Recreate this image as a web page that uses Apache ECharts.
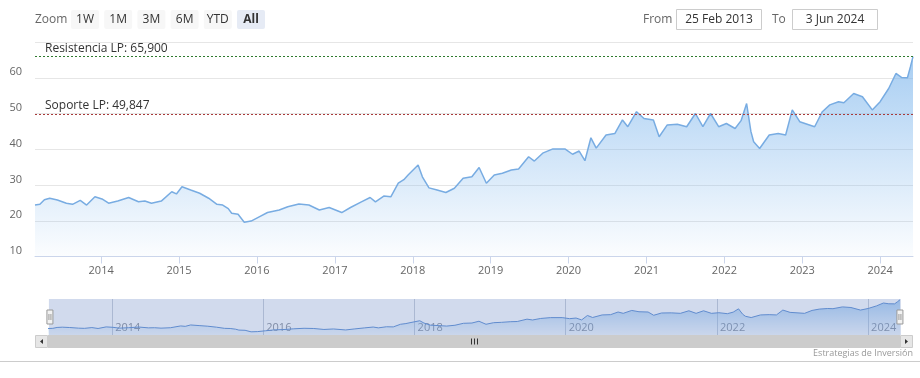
<!DOCTYPE html>
<html>
<head>
<meta charset="utf-8">
<script src="https://cdn.jsdelivr.net/npm/echarts@6/dist/echarts.min.js"></script>
<style>
  html, body { margin: 0; padding: 0; background: #fff; }
  #chart { width: 920px; height: 378px; }
</style>
</head>
<body>
<div id="chart"></div>
<script>
// precio (lectura aproximada del grafico)
const dates = [
  '2013-02-25','2013-03-20','2013-04-10','2013-05-05','2013-06-10','2013-07-22','2013-08-20','2013-09-25','2013-10-25','2013-12-03',
  '2014-01-05','2014-02-05','2014-03-20','2014-05-10','2014-06-25','2014-07-25','2014-08-25','2014-10-10','2014-11-28','2014-12-20',
  '2015-01-15','2015-02-25','2015-04-08','2015-05-20','2015-06-28','2015-07-25','2015-08-20','2015-09-05','2015-10-05','2015-11-03','2015-12-05',
  '2016-01-12','2016-02-20','2016-04-15','2016-05-25','2016-07-16','2016-09-01','2016-10-20','2016-12-05',
  '2017-02-02','2017-03-15','2017-05-05','2017-06-15','2017-07-10','2017-08-18','2017-09-20','2017-10-25','2017-11-20','2017-12-10',
  '2018-01-26','2018-02-15','2018-03-18','2018-04-25','2018-06-05','2018-07-15','2018-08-25','2018-10-05','2018-11-08','2018-12-12',
  '2019-01-18','2019-02-25','2019-04-08','2019-05-12','2019-06-28','2019-07-25','2019-09-02','2019-10-20','2019-12-15',
  '2020-01-20','2020-02-20','2020-03-18','2020-04-15','2020-05-10','2020-06-25','2020-08-05','2020-09-10','2020-10-05','2020-11-15','2020-12-20',
  '2021-02-02','2021-03-01','2021-04-08','2021-05-25','2021-07-08','2021-08-18','2021-09-22','2021-10-28','2021-12-05',
  '2022-01-10','2022-02-20','2022-03-20','2022-04-15','2022-05-05','2022-05-18','2022-06-15','2022-07-30','2022-09-10','2022-10-15','2022-11-15','2022-12-20',
  '2023-02-28','2023-04-05','2023-05-10','2023-06-20','2023-07-15','2023-08-30','2023-10-10','2023-11-25',
  '2024-01-01','2024-02-10','2024-03-15','2024-04-10','2024-05-08','2024-05-22','2024-06-03'
];
const prices = [
  24.4, 24.6, 25.9, 26.3, 25.8, 24.9, 24.6, 25.7, 24.4, 26.7,
  26.1, 24.9, 25.5, 26.5, 25.3, 25.5, 24.9, 25.5, 28.1, 27.5,
  29.5, 28.6, 27.7, 26.3, 24.6, 24.4, 23.4, 22.1, 21.8, 19.6, 19.9,
  21.1, 22.3, 23.0, 23.9, 24.7, 24.4, 23.0, 23.7,
  22.3, 23.7, 25.3, 26.5, 25.3, 26.9, 26.7, 30.5, 31.5, 32.8,
  35.6, 32.3, 29.2, 28.6, 27.9, 29.1, 31.9, 32.3, 34.9, 30.5,
  32.8, 33.3, 34.2, 34.5, 37.9, 36.7, 38.9, 40.1, 40.1,
  38.6, 39.5, 36.8, 43.2, 40.3, 44.0, 44.4, 48.2, 46.3, 50.5, 48.6,
  48.2, 43.5, 46.8, 47.0, 46.3, 50.0, 46.3, 50.0, 46.3,
  47.2, 45.8, 48.0, 52.8, 45.0, 42.1, 40.2, 44.0, 44.4, 44.0, 51.0, 47.7,
  46.3, 50.5, 52.4, 53.3, 53.0, 55.6, 54.7, 51.0,
  53.3, 57.0, 61.2, 60.1, 60.0, 63.1, 65.9
];

const yearTicks = [2014, 2015, 2016, 2017, 2018, 2019, 2020, 2021, 2022, 2023, 2024];
const navYearTicks = [2014, 2016, 2018, 2020, 2022, 2024];
const levelNames = ['Resistencia LP', 'Soporte LP'];
const levelValues = [65.9, 49.847];
const levelColors = ['#2e7a2e', '#a83a3a'];
const zoomButtons = ['1W', '1M', '3M', '6M', 'YTD', 'All'];
const fromLabel = '25 Feb 2013';
const toLabel = '3 Jun 2024';

const FONT = '"Open Sans", "DejaVu Sans", sans-serif';
const ts = s => { const p = s.split('-'); return Date.UTC(+p[0], +p[1] - 1, +p[2]); };
const yearTs = y => Date.UTC(y, 0, 1);
const seriesData = dates.map((d, i) => [ts(d), prices[i]]);
const xMin = ts(dates[0]);
const xMax = ts(dates[dates.length - 1]);
const yearLabel = v => String(new Date(v).getUTCFullYear());

const chart = echarts.init(document.getElementById('chart'), null, { renderer: 'canvas' });

// range selector + inputs + scrollbar
const graphics = [];
graphics.push({ type: 'text', x: 35, y: 19.5, style: { text: 'Zoom', fill: '#666', font: '12px ' + FONT, verticalAlign: 'middle' } });
zoomButtons.forEach((b, i) => {
  const x = 71 + i * 33.2;
  const sel = b === 'All';
  graphics.push({ type: 'rect', shape: { x: x, y: 10, width: 28, height: 19, r: 2 },
    style: { fill: sel ? '#e6ebf5' : '#f7f7f7' } });
  graphics.push({ type: 'text', x: x + 14, y: 19.5,
    style: { text: b, fill: '#333', font: (sel ? 'bold ' : '') + '12px ' + FONT, align: 'center', verticalAlign: 'middle' } });
});
graphics.push({ type: 'text', x: 643, y: 19.5, style: { text: 'From', fill: '#666', font: '12px ' + FONT, verticalAlign: 'middle' } });
graphics.push({ type: 'rect', shape: { x: 676.5, y: 9.5, width: 85, height: 20 }, style: { fill: '#fff', stroke: '#cccccc', lineWidth: 1 } });
graphics.push({ type: 'text', x: 719, y: 19.5, style: { text: fromLabel, fill: '#333', font: '12px ' + FONT, align: 'center', verticalAlign: 'middle' } });
graphics.push({ type: 'text', x: 772, y: 19.5, style: { text: 'To', fill: '#666', font: '12px ' + FONT, verticalAlign: 'middle' } });
graphics.push({ type: 'rect', shape: { x: 792.5, y: 9.5, width: 85, height: 20 }, style: { fill: '#fff', stroke: '#cccccc', lineWidth: 1 } });
graphics.push({ type: 'text', x: 835, y: 19.5, style: { text: toLabel, fill: '#333', font: '12px ' + FONT, align: 'center', verticalAlign: 'middle' } });

// scrollbar
graphics.push({ type: 'rect', shape: { x: 48, y: 335, width: 852, height: 13 }, style: { fill: '#cccccc' } });
graphics.push({ type: 'rect', shape: { x: 35.5, y: 335.5, width: 12, height: 12 }, style: { fill: '#e6e6e6', stroke: '#cccccc' } });
graphics.push({ type: 'rect', shape: { x: 900.5, y: 335.5, width: 12, height: 12 }, style: { fill: '#e6e6e6', stroke: '#cccccc' } });
graphics.push({ type: 'polygon', shape: { points: [[40, 341.5], [43, 339], [43, 344]] }, style: { fill: '#333' } });
graphics.push({ type: 'polygon', shape: { points: [[908, 341.5], [905, 339], [905, 344]] }, style: { fill: '#333' } });
[471.5, 474.5, 477.5].forEach(x => {
  graphics.push({ type: 'line', shape: { x1: x, y1: 338.5, x2: x, y2: 344.5 }, style: { stroke: '#333', lineWidth: 1 } });
});
graphics.push({ type: 'line', shape: { x1: 0, y1: 361.5, x2: 920, y2: 361.5 }, style: { stroke: '#cccccc', lineWidth: 1 } });
graphics.push({ type: 'text', x: 913, y: 353, style: { text: 'Estrategias de Inversión', fill: '#999', font: '9px ' + FONT, align: 'right', verticalAlign: 'middle' } });

const option = {
  animation: false,
  backgroundColor: '#fff',
  grid: [
    { left: 35, right: 7, top: 42, bottom: 121.5 },
    { left: 48, right: 20, top: 299, height: 36 }
  ],
  xAxis: [
    {
      type: 'value', gridIndex: 0, min: xMin, max: xMax,
      axisLine: { lineStyle: { color: '#ccd6eb' } },
      axisTick: { show: true, length: 7, lineStyle: { color: '#ccd6eb' }, customValues: yearTicks.map(yearTs) },
      axisLabel: { color: '#666', fontSize: 11, fontFamily: FONT, margin: 9,
        customValues: yearTicks.map(yearTs), formatter: yearLabel },
      splitLine: { show: false }
    },
    {
      type: 'value', gridIndex: 1, min: xMin, max: xMax,
      axisLine: { show: false },
      axisTick: { show: true, inside: true, length: 36, lineStyle: { color: '#c9cfd9' }, customValues: navYearTicks.map(yearTs) },
      axisLabel: { inside: true, color: '#8a8f99', fontSize: 11, fontFamily: FONT, margin: 2, align: 'left', padding: [0, 0, 0, 3],
        verticalAlign: 'bottom', customValues: navYearTicks.map(yearTs), formatter: yearLabel },
      splitLine: { show: false }
    }
  ],
  yAxis: [
    {
      type: 'value', gridIndex: 0, min: 10, max: 70, interval: 10,
      axisLine: { show: false }, axisTick: { show: false },
      axisLabel: { color: '#666', fontSize: 11, fontFamily: FONT, margin: 13, verticalAlign: 'bottom', showMaxLabel: false },
      splitLine: { lineStyle: { color: '#e6e6e6' } }
    },
    { type: 'value', gridIndex: 1, min: 15, max: 67, show: false, splitLine: { show: false } }
  ],
  dataZoom: [{
    type: 'slider', xAxisIndex: 0, filterMode: 'none', start: 0, end: 100,
    left: 48, right: 20, top: 299, height: 36,
    backgroundColor: 'rgba(0,0,0,0)', borderColor: 'rgba(0,0,0,0)',
    fillerColor: 'rgba(102,133,194,0.3)',
    showDataShadow: false, showDetail: false, brushSelect: false,
    moveHandleSize: 0,
    handleIcon: 'path://M-3,-7 h6 v14 h-6 z M-1,-3 v6 M1,-3 v6',
    handleSize: 14,
    handleStyle: { color: '#f2f2f2', borderColor: '#999', borderWidth: 1 },
    emphasis: { handleStyle: { color: '#f2f2f2', borderColor: '#999' } }
  }],
  series: [
    {
      type: 'line', xAxisIndex: 0, yAxisIndex: 0, data: seriesData,
      showSymbol: false, symbol: 'none', smooth: false,
      lineStyle: { color: '#78ace2', width: 1.5 },
      areaStyle: {
        color: new echarts.graphic.LinearGradient(0, 0, 0, 1, [
          { offset: 0, color: 'rgba(124,181,236,0.95)' },
          { offset: 1, color: 'rgba(124,181,236,0.04)' }
        ])
      },
      markLine: {
        silent: true, symbol: 'none',
        data: levelValues.map((v, i) => ({
          yAxis: v,
          lineStyle: { color: levelColors[i], type: [2, 2], width: 1 },
          label: {
            show: true, position: 'insideStartTop', distance: [10, 2],
            formatter: levelNames[i] + ': ' + v.toFixed(3).replace('.', ','),
            color: '#333', fontSize: 12, fontFamily: FONT
          }
        }))
      }
    },
    {
      type: 'line', xAxisIndex: 1, yAxisIndex: 1, data: seriesData,
      showSymbol: false, symbol: 'none', silent: true,
      lineStyle: { color: '#5e8fd3', width: 1 },
      areaStyle: {
        color: new echarts.graphic.LinearGradient(0, 0, 0, 1, [
          { offset: 0, color: 'rgba(124,181,236,0.9)' },
          { offset: 1, color: 'rgba(124,181,236,0.1)' }
        ])
      }
    }
  ],
  graphic: graphics
};

chart.setOption(option);
</script>
</body>
</html>
